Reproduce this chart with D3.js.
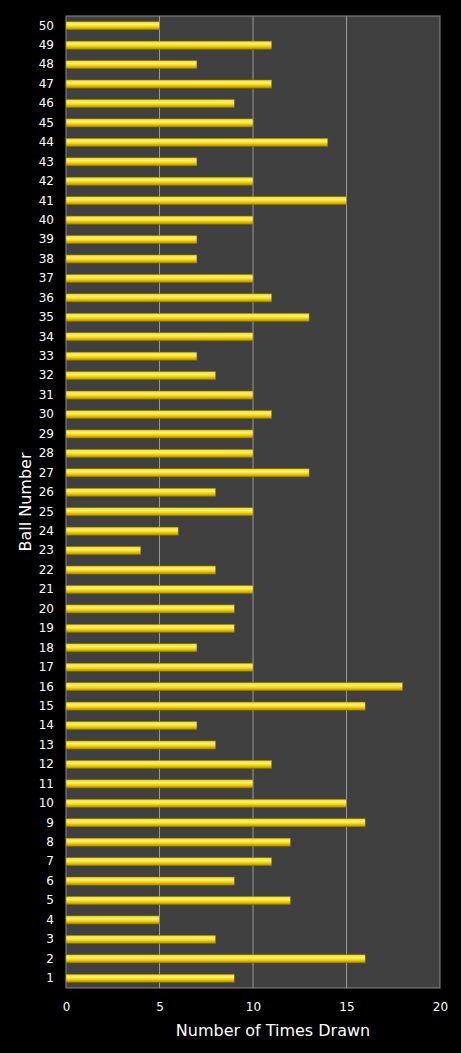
<!DOCTYPE html>
<html><head><meta charset="utf-8">
<script src="https://cdn.jsdelivr.net/npm/d3@7"></script>
<style>body{margin:0;background:#000}</style></head>
<body><svg id="c" width="461" height="1053"></svg>
<script>
const balls = d3.range(1,51).map(String);
const counts = [9,16,8,5,12,9,11,12,16,15,10,11,8,7,16,18,10,7,9,9,10,8,4,6,10,8,13,10,10,11,10,8,7,10,13,11,10,7,7,10,15,10,7,14,10,9,11,7,11,5];
const xTicks = [0,5,10,15,20];
const svg = d3.select("#c");
const m = {l:66,r:440,t:16,b:988};
const x = d3.scaleLinear().domain([0,20]).range([m.l,m.r]);
const y = d3.scaleBand().domain(balls.slice().reverse()).range([m.t,m.b]).paddingInner(0.58).paddingOuter(0.29);
const defs = svg.append("defs");
const g = defs.append("linearGradient").attr("id","gy").attr("x1",0).attr("x2",0).attr("y1",0).attr("y2",1);
g.append("stop").attr("offset","0%").attr("stop-color","#f5d800");
g.append("stop").attr("offset","35%").attr("stop-color","#fff27a");
g.append("stop").attr("offset","65%").attr("stop-color","#f0d000");
g.append("stop").attr("offset","100%").attr("stop-color","#a88a00");
svg.append("rect").attr("x",m.l).attr("y",m.t).attr("width",m.r-m.l).attr("height",m.b-m.t).attr("fill","#404040").attr("stroke","#888").attr("stroke-width",1);
svg.selectAll("line.grid").data(xTicks.slice(1,4)).join("line").attr("x1",d=>x(d)).attr("x2",d=>x(d)).attr("y1",m.t).attr("y2",m.b).attr("stroke","#999").attr("stroke-width",1);
svg.selectAll("rect.bar").data(balls).join("rect").attr("x",x(0)).attr("y",d=>y(d)).attr("height",y.bandwidth()).attr("width",(d,i)=>x(counts[i])-x(0)).attr("fill","url(#gy)").attr("stroke","#8a7000").attr("stroke-width",0.5);
const f = "Verdana, 'DejaVu Sans', sans-serif";
svg.append("g").attr("transform",`translate(0,${m.b})`).call(d3.axisBottom(x).tickValues(xTicks).tickSize(0).tickPadding(14))
 .call(a=>{a.select(".domain").remove();a.selectAll("text").attr("fill","#fff").attr("font-size",12).attr("font-family",f);});
svg.append("g").attr("transform",`translate(${m.l},0)`).call(d3.axisLeft(y).tickSize(0).tickPadding(12))
 .call(a=>{a.select(".domain").remove();a.selectAll("text").attr("fill","#fff").attr("font-size",12).attr("font-family",f);});
svg.append("text").attr("x",(m.l+m.r)/2+20).attr("y",1036).attr("text-anchor","middle").attr("fill","#fff").attr("font-size",16).attr("font-family",f).text("Number of Times Drawn");
svg.append("text").attr("transform","translate(31,502) rotate(-90)").attr("text-anchor","middle").attr("fill","#fff").attr("font-size",16).attr("font-family",f).text("Ball Number");
</script></body></html>
